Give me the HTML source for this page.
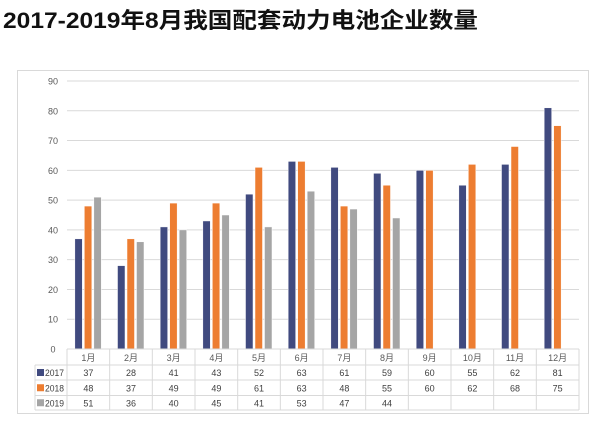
<!DOCTYPE html>
<html><head><meta charset="utf-8"><style>
html,body{margin:0;padding:0;background:#fff;width:600px;height:421px;overflow:hidden}
svg{display:block;font-family:"Liberation Sans","Noto Sans CJK SC",sans-serif}
</style></head><body>
<svg width="600" height="421" viewBox="0 0 600 421">
<text x="3" y="28" font-size="22" font-weight="bold" fill="#111" textLength="475" lengthAdjust="spacingAndGlyphs">2017-2019年8月我国配套动力电池企业数量</text>
<rect x="17.5" y="70.5" width="571" height="343" fill="#fff" stroke="#d9d9d9"/>
<g id="grid"></g><g id="bars"></g><g id="table"></g>
</svg>
<script>
const categories=["1月","2月","3月","4月","5月","6月","7月","8月","9月","10月","11月","12月"];
const seriesNames=["2017","2018","2019"];
const values2017=[37,28,41,43,52,63,61,59,60,55,62,81];
const values2018=[48,37,49,49,61,63,48,55,60,62,68,75];
const values2019=[51,36,40,45,41,53,47,44,null,null,null,null];
const yTicks=[0,10,20,30,40,50,60,70,80,90];
const colors=["#404a7f","#ed7d31","#a5a5a5"];
const NS="http://www.w3.org/2000/svg";
const X0=67,X1=579,Y0=349,Y90=81;
const cw=(X1-X0)/categories.length;
function y(v){return Y0-(v/90)*(Y0-Y90);}
function mk(t,a,p,txt){const e=document.createElementNS(NS,t);for(const k in a)e.setAttribute(k,a[k]);if(txt!=null)e.textContent=txt;p.appendChild(e);return e;}
const grid=document.getElementById('grid'),bars=document.getElementById('bars'),table=document.getElementById('table');
yTicks.forEach(t=>{
  const l=mk('line',{x1:X0,x2:X1,y1:y(t),y2:y(t),stroke:'#d9d9d9','stroke-width':1},grid);
  
  
  const tx=mk('text',{x:53,y:y(t)+3.5,'font-size':9,fill:'#595959','text-anchor':'middle'},grid,String(t));
  
  
});
const allSeries=[values2017,values2018,values2019];
categories.forEach((c,i)=>{
  const cx=X0+cw*(i+0.5);
  allSeries.forEach((s,j)=>{
    const v=s[i]; if(v==null)return;
    const r=mk('rect',{x:cx-13.5+j*9.5,y:y(v),width:7.5,height:Y0-y(v),fill:colors[j],stroke:'#fff','stroke-width':0.5},bars);
    
    
  });
});
const rows=[349,365,380,395.5,410];
const tl=35;
mk('line',{x1:X0,x2:X1,y1:rows[0],y2:rows[0],stroke:'#d9d9d9'},table);
for(let r=1;r<rows.length;r++){mk('line',{x1:(r==1?X0:tl),x2:X1,y1:rows[r],y2:rows[r],stroke:'#d9d9d9'},table);}
mk('line',{x1:tl,x2:X0,y1:rows[1],y2:rows[1],stroke:'#d9d9d9'},table);
mk('line',{x1:tl,x2:tl,y1:rows[1],y2:rows[4],stroke:'#d9d9d9'},table);
for(let i=0;i<=categories.length;i++){const x=X0+cw*i;mk('line',{x1:x,x2:x,y1:rows[0],y2:rows[4],stroke:'#d9d9d9'},table);}
categories.forEach((c,i)=>{
  const cx=X0+cw*(i+0.5);
  const t=mk('text',{x:cx,y:361,'font-size':9,fill:'#595959','text-anchor':'middle'},table,c);
  
  
  allSeries.forEach((s,j)=>{
    if(s[i]==null)return;
    const v=mk('text',{x:cx,y:(rows[j+1]+rows[j+2])/2+3.5,'font-size':9,fill:'#404040','text-anchor':'middle'},table,String(s[i]));
    
    
  });
});
seriesNames.forEach((n,j)=>{
  const cy=(rows[j+1]+rows[j+2])/2;
  const k=mk('rect',{x:37,y:cy-3.5,width:7,height:7,fill:colors[j]},table);
  
  
  const t=mk('text',{x:45,y:cy+3.5,'font-size':9,fill:'#404040',textLength:19,lengthAdjust:'spacingAndGlyphs'},table,n);
  
  
});
</script>
</body></html>
